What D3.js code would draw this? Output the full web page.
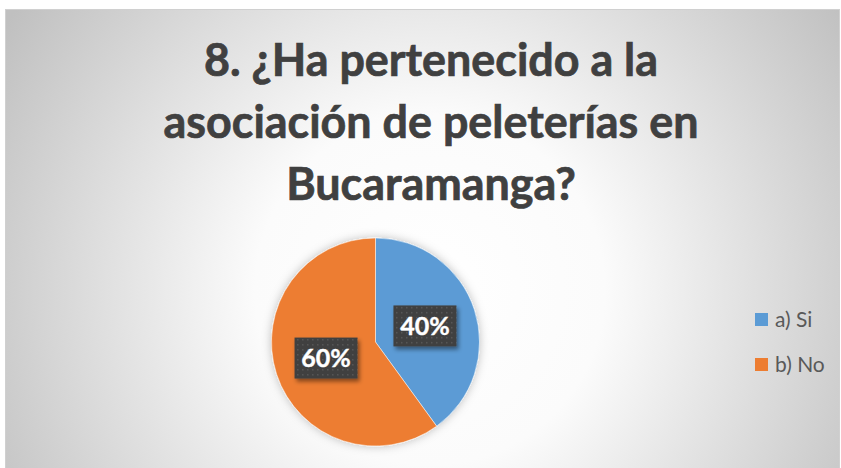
<!DOCTYPE html>
<html>
<head>
<meta charset="utf-8">
<script src="https://cdn.jsdelivr.net/npm/d3@7"></script>
<style>
  body { margin: 0; background: #fff; }
  svg { display: block; }
</style>
</head>
<body>
<div id="chart"></div>
<script>
// data
var categories = ["a) Si", "b) No"];
var values = [40, 60];
var colors = ["#5B9BD5", "#ED7D31"];
var titleLines = ["8. ¿Ha pertenecido a la", "asociación de peleterías en", "Bucaramanga?"];

var W = 841, H = 468;

var svg = d3.select("#chart")
  .append("svg")
    .attr("width", W)
    .attr("height", H);

var defs = svg.append("defs");

// background gradient
var grad = defs.append("radialGradient")
    .attr("id", "bg")
    .attr("gradientUnits", "userSpaceOnUse")
    .attr("cx", 430).attr("cy", 290).attr("r", 500);
grad.append("stop").attr("offset", "0").attr("stop-color", "#ffffff");
grad.append("stop").attr("offset", "0.35").attr("stop-color", "#fbfbfb");
grad.append("stop").attr("offset", "1").attr("stop-color", "#c0c0c0");

// dotted pattern for label boxes
var pat = defs.append("pattern")
    .attr("id", "dots")
    .attr("patternUnits", "userSpaceOnUse")
    .attr("width", 5).attr("height", 5);
pat.append("rect").attr("width", 5).attr("height", 5).attr("fill", "#404040");
pat.append("rect").attr("x", 1).attr("y", 1).attr("width", 1.5).attr("height", 1.5).attr("fill", "#585858");

// shadows
var sh = defs.append("filter").attr("id", "pieShadow")
    .attr("x", "-20%").attr("y", "-20%").attr("width", "140%").attr("height", "140%");
sh.append("feDropShadow").attr("dx", 0).attr("dy", 0).attr("stdDeviation", 5)
    .attr("flood-color", "#000").attr("flood-opacity", 0.25);

var sh2 = defs.append("filter").attr("id", "boxShadow")
    .attr("x", "-30%").attr("y", "-30%").attr("width", "160%").attr("height", "160%");
sh2.append("feDropShadow").attr("dx", 2).attr("dy", 3).attr("stdDeviation", 2)
    .attr("flood-color", "#000").attr("flood-opacity", 0.45);

// chart area
svg.append("rect")
    .attr("x", 5.5).attr("y", 9.5)
    .attr("width", 834).attr("height", 470)
    .attr("fill", "url(#bg)")
    .attr("stroke", "#d0d0d0");

// title
var title = svg.append("g")
    .attr("font-family", "Lato, 'Open Sans', sans-serif")
    .attr("font-weight", "bold")
    .attr("fill", "#404040")
    .attr("stroke", "#404040")
    .attr("stroke-width", 0.7)
    .attr("text-anchor", "middle");

var baselines = [76, 138, 200];
var tt = title.selectAll("text")
  .data(titleLines)
  .enter()
  .append("text")
    .attr("x", 431)
    .attr("y", function(d, i){ return baselines[i]; })
    .attr("font-size", 42)
    .text(function(d){ return d; });

// fit font so line 2 is about 535px wide
var w2 = tt.nodes()[1].getComputedTextLength();
tt.attr("font-size", 42 * 535 / w2);

// pie
var cx = 375.5, cy = 342, R = 104;

var pie = d3.pie().sort(null).value(function(d){ return d; });
var arc = d3.arc().innerRadius(0).outerRadius(R);
var arcs = pie(values);

var g = svg.append("g")
    .attr("transform", "translate(" + cx + "," + cy + ")");

g.append("g")
    .attr("filter", "url(#pieShadow)")
  .selectAll("path")
  .data(arcs)
  .enter()
  .append("path")
    .attr("d", arc)
    .attr("fill", function(d, i){ return colors[i]; })
    .attr("stroke", "#fff")
    .attr("stroke-width", 0.5);

// data labels
var bw = 63, bh = 41;
var lab = g.selectAll(".lab")
  .data(arcs)
  .enter()
  .append("g")
    .attr("class", "lab")
    .attr("transform", function(d){
      var c = arc.centroid(d);
      return "translate(" + c[0] + "," + c[1] + ")";
    });

lab.append("rect")
    .attr("x", -bw/2).attr("y", -bh/2)
    .attr("width", bw).attr("height", bh)
    .attr("fill", "url(#dots)")
    .attr("filter", "url(#boxShadow)");

lab.append("text")
    .attr("text-anchor", "middle")
    .attr("dy", "0.36em")
    .attr("font-family", "Lato, 'Open Sans', sans-serif")
    .attr("font-weight", "bold")
    .attr("font-size", 25)
    .attr("fill", "#fff")
    .attr("stroke", "#fff")
    .attr("stroke-width", 0.4)
    .text(function(d){ return d.data + "%"; });

// legend
var legend = svg.append("g")
    .attr("transform", "translate(755,313)");

var li = legend.selectAll("g")
  .data(categories)
  .enter()
  .append("g")
    .attr("transform", function(d, i){ return "translate(0," + (i * 45) + ")"; });

li.append("rect")
    .attr("width", 13).attr("height", 13)
    .attr("fill", function(d, i){ return colors[i]; });

li.append("text")
    .attr("x", 20)
    .attr("y", 14)
    .attr("font-family", "Lato, 'Open Sans', sans-serif")
    .attr("font-size", 21)
    .attr("fill", "#595959")
    .text(function(d){ return d; });
</script>
</body>
</html>
